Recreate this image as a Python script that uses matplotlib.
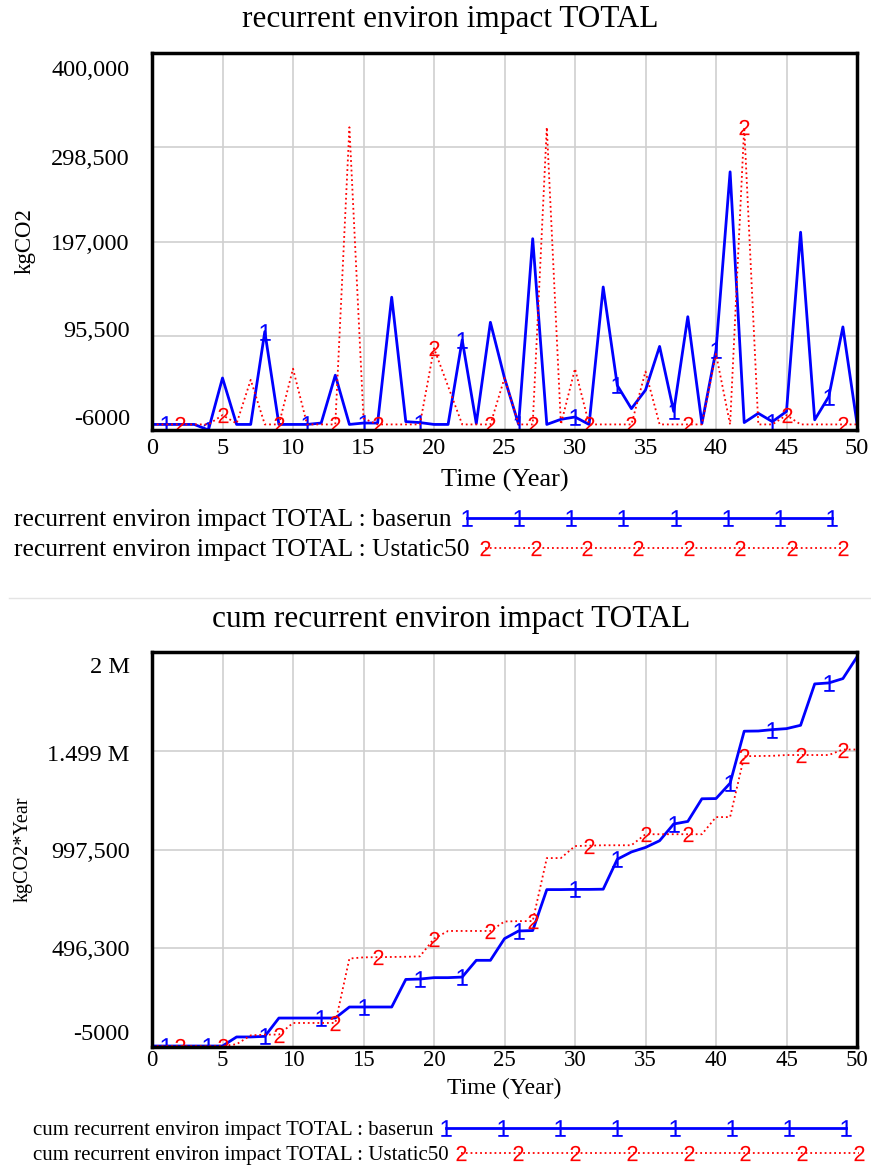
import numpy as np
import matplotlib
matplotlib.use("Agg")
import matplotlib.pyplot as plt
from matplotlib.lines import Line2D
from matplotlib.transforms import ScaledTranslation

plt.rcParams["font.family"] = ["Liberation Serif", "DejaVu Serif"]
# plain sans digits for the "1" / "2" series markers
plt.rcParams["mathtext.fontset"] = "custom"
plt.rcParams["mathtext.rm"] = "Liberation Sans"
plt.rcParams["mathtext.it"] = "Liberation Sans"

years = np.arange(0, 51)

# recurrent environ impact TOTAL (kgCO2), yearly values
base_rec = [0, 0, 0, 0, -6000, 50000, 0, 0, 100000, 0,
            0, 0, 1500, 53000, 0, 1500, 1500, 137000, 3000, 2000,
            0, 0, 91000, 1000, 110000, 50000, 0, 200000, 0, 5500,
            8000, 0, 148000, 42000, 17000, 37000, 84000, 14000, 116000, 1000,
            80000, 272000, 2000, 12000, 3000, 14000, 207000, 5000, 30000, 105000,
            1000]
ustatic_rec = [0, 0, 0, 0, 0, 10000, 1000, 48000, 0, 0,
               60000, 0, 0, 0, 320000, 6500, 0, 0, 0, 0,
               82000, 41000, 0, 0, 0, 50000, 0, 0, 320000, 0,
               60000, 0, 0, 0, 0, 57000, 0, 0, 0, 0,
               76000, 0, 320000, 0, 0, 10000, 0, 0, 0, 0,
               0]

# cum recurrent environ impact TOTAL (kgCO2*Year)
base_cum = [0, 0, 0, 0, 0, 0, 46000, 46000, 49000, 142000,
            142000, 142000, 142000, 142000, 198000, 198000, 198000, 198000, 338000, 340000,
            347000, 347000, 350000, 435000, 435000, 545000, 584000, 586000, 794000, 794000,
            795000, 795000, 796000, 948000, 985000, 1008000, 1042000, 1127000, 1140000, 1255000,
            1256000, 1334000, 1598000, 1599000, 1606000, 1611000, 1628000, 1838000, 1843000, 1865000,
            1975000]
ustatic_cum = [0, 0, 0, 0, 0, 0, 9000, 54000, 58000, 58000,
               117000, 117000, 117000, 117000, 444000, 450000, 451000, 452000, 453000, 455000,
               545000, 584000, 584000, 584000, 584000, 632000, 634000, 634000, 954000, 954000,
               1015000, 1017000, 1019000, 1019000, 1019000, 1075000, 1075000, 1075000, 1075000, 1075000,
               1162000, 1162000, 1471000, 1472000, 1473000, 1477000, 1477000, 1477000, 1477000, 1505000,
               1505000]

x_ticks = list(range(0, 51, 5))
rec_ticks = [-6000, 95500, 197000, 298500, 400000]
rec_labels = ["-6000", "95,500", "197,000", "298,500", "400,000"]
cum_ticks = [-5000, 496250, 997500, 1498750, 2000000]
cum_labels = ["-5000", "496,300", "997,500", "1.499 M", "2 M"]

# years where the series number markers sit
base_marks_rec = [1, 4, 8, 11, 15, 19, 22, 26, 30, 33, 37, 40, 44, 48]
ustatic_marks_rec = [2, 5, 9, 13, 16, 20, 24, 27, 31, 34, 38, 42, 45, 49]
base_marks_cum = [1, 4, 8, 12, 15, 19, 22, 26, 30, 33, 37, 41, 44, 48]
ustatic_marks_cum = [2, 5, 9, 13, 16, 20, 24, 27, 31, 35, 38, 42, 46, 49]

BLUE = "#0000ff"
RED = "#ff0000"

fig = plt.figure(figsize=(8.71, 11.66), dpi=100)


def panel(ax, base, ustatic, bmarks, umarks, ticks, labels, shifts, ylabel, lab_x, ylim):
    ax.plot(years, base, color=BLUE, lw=2.0, marker="$1$", ms=12, mew=0,
            markevery=bmarks, zorder=3)
    ax.plot(years, ustatic, color=RED, lw=1.3, ls=":", marker="$2$", ms=11, mew=0,
            markevery=umarks, zorder=4)
    ax.set_xlim(0, 50)
    ax.set_ylim(*ylim)
    ax.set_xticks(x_ticks)
    ax.set_yticks(ticks)
    ax.set_yticklabels(labels)
    ax.grid(color="#cfcfcf", lw=1.2)
    ax.set_axisbelow(True)
    ax.tick_params(length=0, labelsize=17.5)
    ax.tick_params(axis="y", pad=16)
    ax.tick_params(axis="x", pad=6)
    for s in ax.spines.values():
        s.set_linewidth(2.5)
        s.set_color("black")
        s.set_zorder(5)
    # vensim spreads the value labels a bit inward from the grid lines
    for lab, d in zip(ax.get_yticklabels(), shifts):
        lab.set_transform(lab.get_transform() + ScaledTranslation(0, -d / 100, fig.dpi_scale_trans))
    ax.set_ylabel(ylabel, fontsize=lab_x[1])
    ax.yaxis.set_label_coords(lab_x[0], 0.5)
    ax.set_xlabel("Time (Year)", fontsize=19)
    ax.xaxis.label.set_va("center")


def legend_rows(rows, x0, ys, fs):
    for (handle, text, hl), y in zip(rows, ys):
        fig.legend([handle], [text], loc="center left", bbox_to_anchor=(x0, y),
                   frameon=False, markerfirst=False, numpoints=8, handlelength=hl,
                   handletextpad=0.3, borderpad=0, borderaxespad=0, fontsize=fs)


blue_h = Line2D([], [], color=BLUE, lw=2.0, marker="$1$", ms=12, mew=0)
red_h = Line2D([], [], color=RED, lw=1.3, ls=":", marker="$2$", ms=11, mew=0)

# top chart
ax1 = fig.add_axes([152 / 871, 1 - 430 / 1166, 705 / 871, 377 / 1166])
panel(ax1, base_rec, ustatic_rec, base_marks_rec, ustatic_marks_rec,
      rec_ticks, rec_labels, [-13, -7, 0, 10, 15], "kgCO2", (-0.165, 16.5),
      (-6000, 400000))
ax1.xaxis.set_label_coords(0.5, -0.135)
fig.text(450 / 871, 1 - 20 / 1166, "recurrent environ impact TOTAL",
         ha="center", va="center", fontsize=22.5)
legend_rows([(blue_h, "recurrent environ impact TOTAL : baserun", 14.9),
             (red_h, "recurrent environ impact TOTAL : Ustatic50", 14.6)],
            14 / 871, [1 - 520 / 1166, 1 - 550 / 1166], 18.4)

fig.add_artist(Line2D([0.01, 1.0], [1 - 598 / 1166] * 2, transform=fig.transFigure,
                      color="#e4e4e4", lw=1.0))

# bottom chart
ax2 = fig.add_axes([152 / 871, 1 - 1047 / 1166, 705 / 871, 395 / 1166])
panel(ax2, base_cum, ustatic_cum, base_marks_cum, ustatic_marks_cum,
      cum_ticks, cum_labels, [-15, 0, 0, 2, 13], "kgCO2*Year", (-0.17, 14.5),
      (-5000, 2000000))
ax2.tick_params(axis="x", labelsize=16.5, pad=2)
ax2.xaxis.label.set_fontsize(17)
ax2.xaxis.set_label_coords(0.5, -0.106)
fig.text(451 / 871, 1 - 619 / 1166, "cum recurrent environ impact TOTAL",
         ha="center", va="center", fontsize=22.5)
legend_rows([(blue_h, "cum recurrent environ impact TOTAL : baserun", 19.8),
             (red_h, "cum recurrent environ impact TOTAL : Ustatic50", 19.7)],
            33 / 871, [1 - 1130 / 1166, 1 - 1155 / 1166], 15)

fig.savefig("out.png", dpi=100)
